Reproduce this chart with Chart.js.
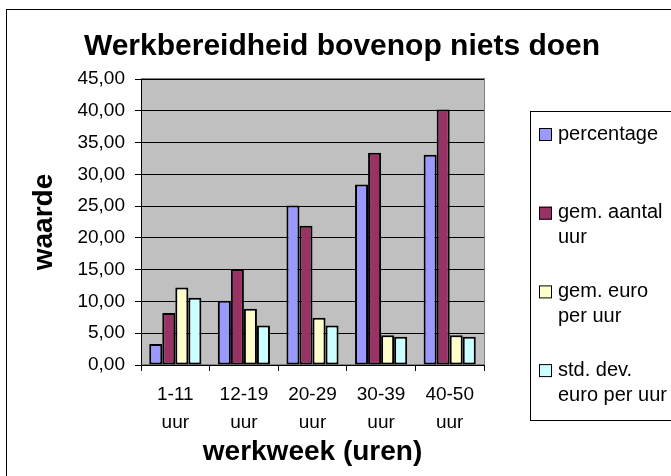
<!DOCTYPE html>
<html>
<head>
<meta charset="utf-8">
<script src="https://cdn.jsdelivr.net/npm/chart.js@4"></script>
<style>
  body { margin: 0; background: #fff; }
  canvas { display: block; }
</style>
</head>
<body>
<canvas id="chart" width="671" height="476"></canvas>
<script>
// data
const categories = [['1-11', 'uur'], ['12-19', 'uur'], ['20-29', 'uur'], ['30-39', 'uur'], ['40-50', 'uur']];
const seriesNames = [['percentage'], ['gem. aantal', 'uur'], ['gem. euro', 'per uur'], ['std. dev.', 'euro per uur']];
const seriesColors = ['#9999FF', '#993366', '#FFFFCC', '#CCFFFF'];
const percentage = [3.3, 10.1, 25.1, 28.4, 33.1];
const gemAantalUur = [8.2, 15.1, 21.9, 33.4, 40.2];
const gemEuroPerUur = [12.2, 8.85, 7.45, 4.7, 4.7];
const stdDevEuro = [10.6, 6.2, 6.2, 4.45, 4.45];
const yTicks = [0, 5, 10, 15, 20, 25, 30, 35, 40, 45];

const FONT = "'Liberation Sans', Arial, sans-serif";
const values = [percentage, gemAantalUur, gemEuroPerUur, stdDevEuro];

// gray plot area with its frame, plus the outer chart border
const plotBackground = {
  id: 'plotBackground',
  beforeDraw(chart) {
    const { ctx, chartArea: a } = chart;
    ctx.save();
    ctx.fillStyle = '#fff';
    ctx.fillRect(0, 0, chart.width, chart.height);
    ctx.fillStyle = '#C0C0C0';
    ctx.fillRect(a.left, a.top, a.right - a.left, a.bottom - a.top);
    ctx.strokeStyle = '#808080';
    ctx.lineWidth = 1;
    ctx.strokeRect(a.left + 0.5, a.top - 0.5, a.right - a.left, a.bottom - a.top);
    ctx.strokeStyle = '#000';
    ctx.strokeRect(6.5, 9.5, 720, 500);
    ctx.restore();
  }
};

// legend box on the right with wrapped labels
const sideLegend = {
  id: 'sideLegend',
  afterDraw(chart) {
    const { ctx } = chart;
    ctx.save();
    ctx.strokeStyle = '#000';
    ctx.lineWidth = 1;
    ctx.strokeRect(530.5, 111.5, 200, 309);
    ctx.font = '20px ' + FONT;
    ctx.textBaseline = 'middle';
    chart.data.datasets.forEach((ds, i) => {
      const y = 134 + i * 78.7;
      ctx.fillStyle = ds.backgroundColor;
      ctx.fillRect(539, y - 6, 13, 13);
      ctx.strokeStyle = '#000';
      ctx.strokeRect(539.5, y - 5.5, 12, 12);
      ctx.fillStyle = '#000';
      seriesNames[i].forEach((line, j) => {
        ctx.fillText(line, 558, y + j * 25);
      });
    });
    ctx.restore();
  }
};

new Chart(document.getElementById('chart'), {
  type: 'bar',
  data: {
    labels: categories,
    datasets: values.map((v, i) => ({
      label: seriesNames[i].join(' '),
      data: v,
      backgroundColor: seriesColors[i],
      borderColor: '#000',
      borderWidth: 2,
      borderSkipped: false,
      categoryPercentage: 0.76,
      barPercentage: 1
    }))
  },
  options: {
    responsive: false,
    animation: false,
    layout: { padding: { left: 13, top: 0, right: 0, bottom: 0 } },
    plugins: {
      legend: { display: false },
      tooltip: { enabled: false },
      title: {
        display: true,
        text: 'Werkbereidheid bovenop niets doen',
        color: '#000',
        font: { family: FONT, size: 30, weight: 'bold' },
        padding: { top: 29, bottom: 14 }
      }
    },
    scales: {
      x: {
        grid: { offset: true, drawOnChartArea: false, drawTicks: true, tickLength: 6, color: '#000' },
        border: { color: '#000' },
        ticks: { color: '#000', padding: 10, maxRotation: 0, font: { family: FONT, size: 19, lineHeight: 1.45 } },
        title: {
          display: true,
          text: 'werkweek (uren)',
          color: '#000',
          font: { family: FONT, size: 28, weight: 'bold' },
          padding: { top: 0, bottom: 7 }
        },
        afterFit(s) { s.height = 111; }
      },
      y: {
        min: 0,
        max: 45,
        afterBuildTicks(s) { s.ticks = yTicks.map(v => ({ value: v })); },
        grid: { color: '#000', tickLength: 6 },
        border: { color: '#000' },
        ticks: {
          color: '#000',
          padding: 10,
          font: { family: FONT, size: 19 },
          callback: v => v.toFixed(2).replace('.', ',')
        },
        title: {
          display: true,
          text: 'waarde',
          color: '#000',
          font: { family: FONT, size: 28, weight: 'bold' },
          padding: { top: 14, bottom: 0 }
        },
        afterFit(s) { s.width = 128; }
      },
      side: {
        type: 'linear',
        position: 'right',
        display: true,
        grid: { display: false },
        border: { display: false },
        ticks: { display: false },
        afterFit(s) { s.width = 187; }
      }
    }
  },
  plugins: [plotBackground, sideLegend]
});
</script>
</body>
</html>
